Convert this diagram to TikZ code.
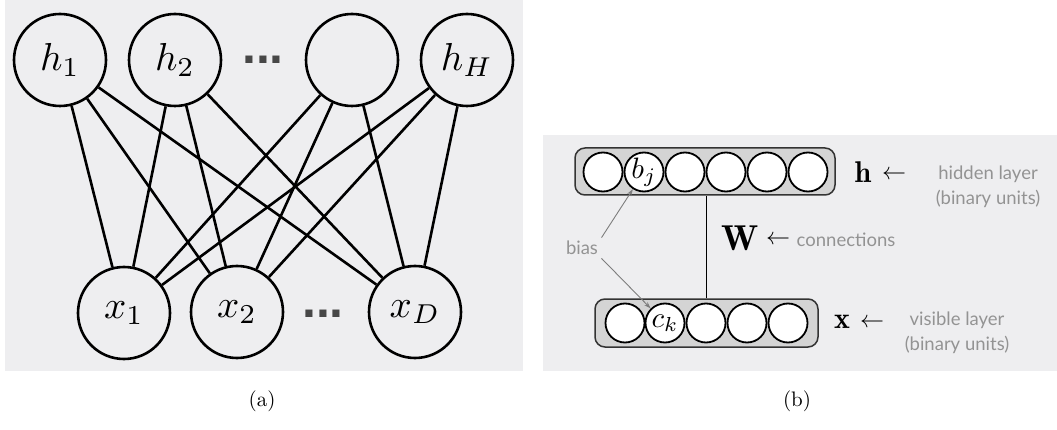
\RequirePackage{fix-cm}
\documentclass[tikz,border=0pt]{standalone}
\usepackage{fontspec}
\usepackage{amsmath}
\usepackage{graphicx}
\usetikzlibrary{arrows.meta,positioning}
\newfontfamily\labelfont{Lato}
\newfontfamily\dotsfont{Liberation Sans}
\definecolor{panelgray}{HTML}{EEEEF0}
\definecolor{barfill}{HTML}{D4D4D4}
\definecolor{labelgray}{HTML}{939393}
% 10pt math blown up, keeps the heavier strokes
\newcommand{\bigmath}[2]{\scalebox{#1}{$#2$}}

\begin{document}
\begin{tikzpicture}[x=1pt,y=-1pt]
\tikzset{
  panel/.style={fill=panelgray,draw=none},
  graphnode/.style={circle,draw,line width=2.6pt,minimum size=92pt,inner sep=0pt},
  undirected/.style={line width=2.6pt},
  dotsnode/.style={anchor=base,text=black!72,font=\dotsfont\bfseries\fontsize{50}{50}\selectfont},
  layerbar/.style={rectangle,rounded corners=10pt,draw=black!80,line width=1.5pt,fill=barfill,inner sep=0pt},
  unit/.style={circle,draw,fill=white,line width=1.8pt,minimum size=39pt,inner sep=0pt},
  textarrow/.style={font=\fontsize{24}{26}\selectfont},
  sidenote/.style={text=labelgray,align=center,font=\labelfont\fontsize{18.5}{24.5}\selectfont},
  biasarrow/.style={-{Stealth[length=7pt,width=4.5pt]},draw=labelgray!85!black,line width=0.9pt}
}
\useasboundingbox (0,0) rectangle (1057,430);
\fill[panel] (5,0) rectangle (523,371);
\fill[panel] (543,135) rectangle (1057,371);
% (a) bipartite graph
\node[graphnode] (n_h1) at (60,60) {\bigmath{3.9}{h_1}};
\node[graphnode] (n_h2) at (175,60) {\bigmath{3.9}{h_2}};
\node[graphnode] (n_h3) at (352,60) {};
\node[graphnode] (n_hH) at (467,60) {\bigmath{3.9}{h_H}};
\node[graphnode] (n_x1) at (124,313) {\bigmath{3.9}{x_1}};
\node[graphnode] (n_x2) at (237,312) {\bigmath{3.9}{x_2}};
\node[graphnode] (n_xD) at (415,312) {\bigmath{3.9}{x_D}};
\node[dotsnode] (n_hdots) at (263,64) {...};
\node[dotsnode] (n_xdots) at (323,317) {...};
\draw[undirected] (n_h1) -- (n_x1);
\draw[undirected] (n_h1) -- (n_x2);
\draw[undirected] (n_h1) -- (n_xD);
\draw[undirected] (n_h2) -- (n_x1);
\draw[undirected] (n_h2) -- (n_x2);
\draw[undirected] (n_h2) -- (n_xD);
\draw[undirected] (n_h3) -- (n_x1);
\draw[undirected] (n_h3) -- (n_x2);
\draw[undirected] (n_h3) -- (n_xD);
\draw[undirected] (n_hH) -- (n_x1);
\draw[undirected] (n_hH) -- (n_x2);
\draw[undirected] (n_hH) -- (n_xD);
% (b) layers
\node[layerbar,minimum width=260pt,minimum height=47pt] (n_hbar) at (705,171.5) {};
\node[layerbar,minimum width=223pt,minimum height=48pt] (n_xbar) at (706.5,323) {};
\draw[line width=1.2pt] (n_xbar.north) -- (n_xbar.north |- n_hbar.south);
\node[unit] (n_hu1) at (603,172) {};
\node[unit] (n_hu2) at (644,172) {\bigmath{2.95}{b_j}};
\node[unit] (n_hu3) at (685,172) {};
\node[unit] (n_hu4) at (726,172) {};
\node[unit] (n_hu5) at (767,172) {};
\node[unit] (n_hu6) at (808,172) {};
\node[unit] (n_vu1) at (625,323) {};
\node[unit] (n_vu2) at (665,323) {\bigmath{2.9}{c_k}};
\node[unit] (n_vu3) at (706,323) {};
\node[unit] (n_vu4) at (747,323) {};
\node[unit] (n_vu5) at (788,323) {};
\node (n_hlab) at (863,172) {\bigmath{3}{\mathbf{h}}};
\node (n_xlab) at (842,322) {\bigmath{3}{\mathbf{x}}};
\node (n_wlab) at (740,238) {\bigmath{3.6}{\mathbf{W}}};
\node[textarrow] (n_harr) at (894,175) {$\leftarrow$};
\node[textarrow] (n_xarr) at (872,323) {$\leftarrow$};
\node[textarrow] (n_warr) at (778,240) {$\leftarrow$};
\node[sidenote] (n_hnote) at (988,187) {hidden layer\\(binary units)};
\node[sidenote] (n_xnote) at (957,333) {visible layer\\(binary units)};
\node[sidenote] (n_wnote) at (846,240) {connections};
\node[sidenote] (n_bias) at (582,248) {bias};
\draw[biasarrow] (n_bias.north east) -- (n_hu2);
\draw[biasarrow] (n_bias.south east) -- (n_vu2);
% captions
\node (n_capa) at (262,401) {\scalebox{2.1}{(a)}};
\node (n_capb) at (797,401) {\scalebox{2.1}{(b)}};
\end{tikzpicture}
\end{document}
